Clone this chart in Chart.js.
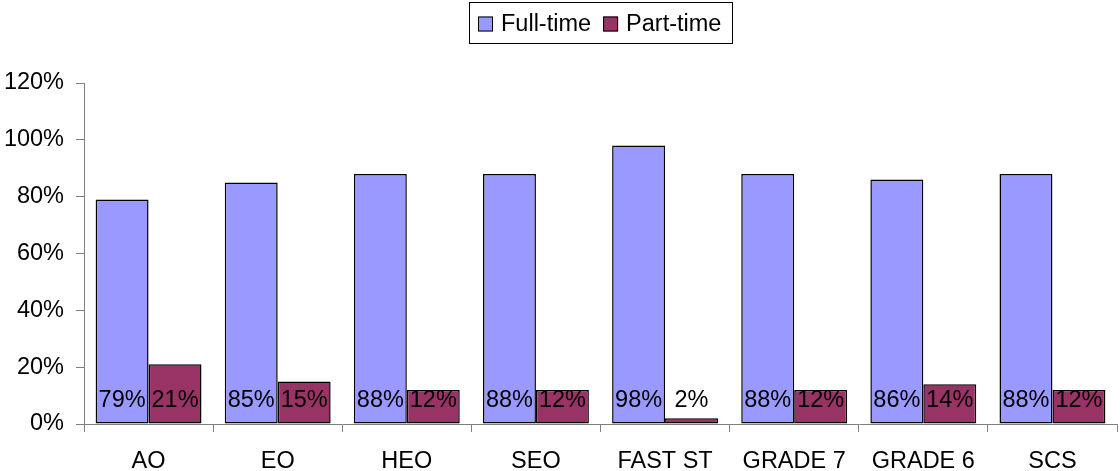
<!DOCTYPE html>
<html>
<head>
<meta charset="utf-8">
<script src="https://cdn.jsdelivr.net/npm/chart.js@4/dist/chart.umd.min.js"></script>
<style>
  html, body { margin: 0; padding: 0; background: #fff; }
  #wrap { width: 1120px; height: 471px; }
</style>
</head>
<body>
<div id="wrap"><canvas id="grades"></canvas></div>
<script>
var categories = ['AO', 'EO', 'HEO', 'SEO', 'FAST ST', 'GRADE 7', 'GRADE 6', 'SCS'];
var fullTime = [79, 85, 88, 88, 98, 88, 86, 88];
var partTime = [21, 15, 12, 12, 2, 12, 14, 12];
var yTicks = [0, 20, 40, 60, 80, 100, 120];

var FONT = 'Liberation Sans, Arial, sans-serif';
var FSIZE = 23.5;

// labels sitting at the bottom of each bar
var barLabels = {
    id: 'barLabels',
    afterDatasetsDraw: function (chart) {
        var c = chart.ctx;
        var y0 = chart.scales.y.getPixelForValue(0);
        c.save();
        c.font = FSIZE + 'px ' + FONT;
        c.fillStyle = '#000';
        c.textAlign = 'center';
        c.textBaseline = 'middle';
        chart.data.datasets.forEach(function (ds, i) {
            chart.getDatasetMeta(i).data.forEach(function (bar, j) {
                c.fillText(ds.data[j] + '%', bar.x, y0 - 23);
            });
        });
        c.restore();
    }
};

// excel style legend: boxed, centred over the plot area
var boxedLegend = {
    id: 'boxedLegend',
    afterDraw: function (chart) {
        var c = chart.ctx;
        var ds = chart.data.datasets;
        c.save();
        c.font = FSIZE + 'px ' + FONT;
        var widths = ds.map(function (d) { return c.measureText(d.label).width; });
        var total = 9 + 11;
        widths.forEach(function (w, i) { total += 15 + 8 + w + (i < ds.length - 1 ? 12 : 0); });
        var cx = (chart.chartArea.left + chart.chartArea.right) / 2;
        var left = Math.round(cx - total / 2);
        c.strokeStyle = '#000';
        c.lineWidth = 1;
        c.strokeRect(left + 0.5, 2.5, Math.round(total), 41);
        var x = left + 9;
        var cy = 23.5;
        c.textBaseline = 'middle';
        c.textAlign = 'left';
        ds.forEach(function (d, i) {
            c.fillStyle = d.backgroundColor;
            c.fillRect(x, cy - 7, 15, 15);
            c.strokeRect(x + 0.5, cy - 6.5, 14, 14);
            x += 15 + 8;
            c.fillStyle = '#000';
            c.fillText(d.label, x, cy + 1);
            x += widths[i] + 12;
        });
        c.restore();
    }
};

var ctx = document.getElementById('grades').getContext('2d');
var chart = new Chart(ctx, {
    type: 'bar',
    data: {
        labels: categories,
        datasets: [{
            label: 'Full-time',
            data: fullTime,
            backgroundColor: '#9999FF',
            borderColor: '#000',
            borderWidth: 1.5,
            borderSkipped: false
        }, {
            label: 'Part-time',
            data: partTime,
            backgroundColor: '#993366',
            borderColor: '#000',
            borderWidth: 1.5,
            borderSkipped: false
        }]
    },
    options: {
        responsive: true,
        maintainAspectRatio: false,
        animation: false,
        layout: { padding: { top: 83, right: 3, left: 0, bottom: 0 } },
        datasets: { bar: { categoryPercentage: 0.82, barPercentage: 1.0 } },
        plugins: {
            tooltip: { enabled: false },
            legend: { display: false }
        },
        scales: {
            x: {
                grid: { drawOnChartArea: false, drawTicks: true, tickLength: 8, color: '#808080' },
                border: { color: '#808080', width: 1 },
                ticks: { font: { family: FONT, size: FSIZE }, color: '#000', padding: 15, maxRotation: 0 },
                afterFit: function (s) { s.height = 47; }
            },
            y: {
                min: 0,
                max: 120,
                afterBuildTicks: function (s) { s.ticks = yTicks.map(function (v) { return { value: v }; }); },
                grid: { drawOnChartArea: false, drawTicks: true, tickLength: 8, color: '#808080' },
                border: { color: '#808080', width: 1 },
                ticks: {
                    font: { family: FONT, size: FSIZE }, color: '#000', padding: 12,
                    callback: function (v) { return v + '%'; }
                },
                afterFit: function (s) { s.width = 84; }
            }
        }
    },
    plugins: [barLabels, boxedLegend]
});
</script>
</body>
</html>
